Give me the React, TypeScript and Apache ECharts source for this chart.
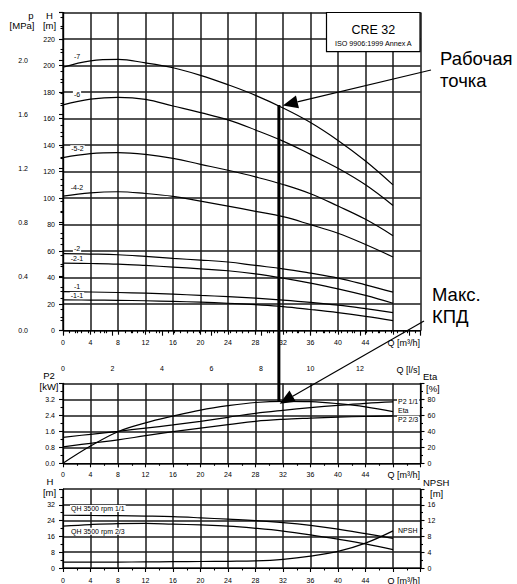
import React, { useEffect, useRef } from "react";
import * as echarts from "echarts";

// ---- data -------------------------------------------------------------
const Q_M3H = [0, 4, 8, 12, 16, 20, 24, 28, 32, 36, 40, 44, 48];

const TOP_NAMES = ["-7", "-6", "-5-2", "-4-2", "-2", "-2-1", "-1", "-1-1"];
const H_7 = [198.7, 203.5, 204.6, 202, 198.3, 192.6, 185.5, 177.5, 168, 157, 143.5, 128, 110];
const H_6 = [170.3, 174.6, 176, 174.5, 169.5, 164.5, 159, 151.4, 143, 133, 122.5, 110, 94.4];
const H_5_2 = [130.5, 133.5, 134.3, 133, 130, 125.5, 121, 116, 110.3, 103.3, 94, 84, 71.7];
const H_4_2 = [101.5, 104, 104.8, 103.5, 101.3, 97.7, 94, 90, 86, 80, 73.5, 65, 55.6];
const H_2 = [58.1, 57.8, 57.3, 56, 54.5, 53.3, 51.8, 49.2, 46.7, 43.4, 39.7, 34.6, 29.1];
const H_2_1 = [51, 50.7, 50.2, 49.2, 48, 46.7, 45.2, 42.9, 39.7, 35.9, 31.6, 26.6, 20.7];
const H_1 = [29.5, 29.2, 28.8, 28.3, 27.6, 26.6, 25.7, 24.5, 23.1, 21.4, 19.3, 16.6, 13.6];
const H_1_1 = [23.2, 23.1, 22.9, 22.6, 22.1, 21.5, 20.7, 19.6, 18.2, 16, 13.6, 10.8, 7.6];
const TOP_CURVES = [H_7, H_6, H_5_2, H_4_2, H_2, H_2_1, H_1, H_1_1];

const P2_11 = [1.3, 1.45, 1.6, 1.76, 1.92, 2.1, 2.3, 2.5, 2.65, 2.78, 2.9, 3.0, 3.07];
const P2_23 = [0.82, 1.0, 1.17, 1.38, 1.58, 1.76, 1.93, 2.1, 2.2, 2.26, 2.31, 2.34, 2.37];
const ETA = [0, 21.5, 39.5, 50.5, 59, 66.5, 72, 76, 77.5, 77, 74.5, 70.5, 64.5];

const QH_11 = [26.7, 26.6, 26.5, 26.3, 26, 25.4, 24.7, 24, 23, 21.6, 19.7, 17.4, 15];
const QH_23 = [21.2, 22, 22.5, 22.6, 22.2, 21.8, 21.2, 20.1, 18.7, 16.8, 14.6, 12.2, 9.3];
const NPSH = [1.5, 1.5, 1.5, 1.55, 1.6, 1.65, 1.7, 1.8, 2.2, 3.0, 4.2, 6.3, 9.4];

const WORK_Q = 31.4;
const WORK_H = 170.3;
const ETA_AT_WORK = 77.4;

const M_TO_MPA = 0.00981;
const Q_MAX = 52;
const H_MAX = 240;

const FONT = "'Liberation Sans', Arial, Helvetica, sans-serif";
const INK = "#000";
const GRID_INK = "#1a1a1a";

export default function App() {
  const ref = useRef<HTMLDivElement>(null);

  useEffect(() => {
    const chart = echarts.init(ref.current!, null, { renderer: "svg" });

    const axisLine = { show: true, lineStyle: { color: INK, width: 1.2 } };
    const split = { show: true, lineStyle: { color: GRID_INK, width: 1.5 } };
    const lbl = (extra: any = {}) => ({ color: INK, fontSize: 7, fontFamily: FONT, ...extra });
    const tick = { show: true, length: 4, lineStyle: { color: INK, width: 1.1 } };
    const minor = (n: number) => ({ show: true, splitNumber: n, length: 2.5, lineStyle: { color: INK, width: 1.1 } });

    const qAxis = (gridIndex: number, margin: number) => ({
      type: "value",
      gridIndex,
      position: "bottom",
      min: 0,
      max: Q_MAX,
      interval: 4,
      axisLine,
      axisTick: tick,
      minorTick: minor(2),
      splitLine: split,
      axisLabel: lbl({ margin, formatter: (v: number) => (v <= 44 ? String(v) : "") }),
    });

    const line = (name: string, xi: number, yi: number, ys: number[]) => ({
      type: "line",
      name,
      xAxisIndex: xi,
      yAxisIndex: yi,
      data: Q_M3H.map((q, i) => [q, ys[i]]),
      smooth: 0.4,
      showSymbol: false,
      symbol: "none",
      lineStyle: { color: INK, width: 1.2 },
      silent: true,
      z: 3,
    });

    const series: any[] = [];
    TOP_CURVES.forEach((c, i) => series.push(line(TOP_NAMES[i], 0, 0, c)));
    series.push(line("P2 1/1", 2, 2, P2_11)); // 8
    series.push(line("Eta", 2, 3, ETA)); // 9
    series.push(line("P2 2/3", 2, 2, P2_23)); // 10
    series.push(line("QH 3500 rpm 1/1", 3, 4, QH_11)); // 11
    series.push(line("QH 3500 rpm 2/3", 3, 4, QH_23)); // 12
    series.push(line("NPSH", 3, 5, NPSH)); // 13

    const option: any = {
      animation: false,
      textStyle: { fontFamily: FONT },
      grid: [
        { left: 63, top: 12.5, width: 357.5, height: 318.2 },
        { left: 63, top: 383.3, width: 357.5, height: 80 },
        { left: 63, top: 489, width: 357.5, height: 79.3 },
      ],
      xAxis: [
        qAxis(0, 8),
        {
          type: "value",
          gridIndex: 0,
          position: "bottom",
          offset: 27.6,
          min: 0,
          max: Q_MAX / 3.6,
          interval: 2,
          axisLine,
          axisTick: { show: true, length: 5, lineStyle: { color: INK, width: 1.1 } },
          minorTick: minor(8),
          splitLine: { show: false },
          axisLabel: lbl({
            margin: 7,
            formatter: (v: number) => (v <= 12 && Math.abs(v - Math.round(v)) < 1e-6 ? String(v) : ""),
          }),
        },
        qAxis(1, 8),
        qAxis(2, 9),
      ],
      yAxis: [
        {
          type: "value",
          gridIndex: 0,
          position: "left",
          min: 0,
          max: H_MAX,
          interval: 20,
          axisLine,
          axisTick: tick,
          minorTick: minor(2),
          splitLine: split,
          axisLabel: lbl({ margin: 8, formatter: (v: number) => (v < H_MAX ? String(v) : "") }),
        },
        {
          type: "value",
          gridIndex: 0,
          position: "left",
          offset: 27,
          min: 0,
          max: H_MAX * M_TO_MPA,
          interval: 0.4,
          axisLine,
          axisTick: tick,
          minorTick: minor(5),
          splitLine: { show: false },
          axisLabel: lbl({ margin: 8, formatter: (v: number) => (v <= 2.01 ? v.toFixed(1) : "") }),
        },
        {
          type: "value",
          gridIndex: 1,
          position: "left",
          min: 0,
          max: 4,
          interval: 0.8,
          axisLine,
          axisTick: tick,
          minorTick: minor(2),
          splitLine: split,
          axisLabel: lbl({ margin: 8, formatter: (v: number) => (v < 3.9 ? v.toFixed(1) : "") }),
        },
        {
          type: "value",
          gridIndex: 1,
          position: "right",
          min: 0,
          max: 100,
          interval: 20,
          axisLine,
          axisTick: tick,
          minorTick: minor(2),
          splitLine: { show: false },
          axisLabel: lbl({ margin: 7, formatter: (v: number) => (v < 100 ? String(v) : "") }),
        },
        {
          type: "value",
          gridIndex: 2,
          position: "left",
          min: 0,
          max: 40,
          interval: 8,
          axisLine,
          axisTick: tick,
          minorTick: minor(2),
          splitLine: split,
          axisLabel: lbl({ margin: 8, formatter: (v: number) => (v < 40 ? String(v) : "") }),
        },
        {
          type: "value",
          gridIndex: 2,
          position: "right",
          min: 0,
          max: 20,
          interval: 4,
          axisLine,
          axisTick: tick,
          minorTick: minor(2),
          splitLine: { show: false },
          axisLabel: lbl({ margin: 7, formatter: (v: number) => (v < 20 ? String(v) : "") }),
        },
      ],
      series,
    };

    chart.setOption(option);

    const px = (si: number, v: number[]) => chart.convertToPixel({ seriesIndex: si } as any, v) as number[];

    const text = (
      x: number,
      y: number,
      t: string,
      size: number,
      align: string = "center",
      extra: any = {}
    ) => ({
      type: "text",
      x,
      y,
      z: 60,
      silent: true,
      style: {
        text: t,
        fill: INK,
        fontSize: size,
        fontFamily: FONT,
        align,
        textAlign: align,
        verticalAlign: "middle",
        textVerticalAlign: "middle",
        ...extra,
      },
    });
    const bg = { backgroundColor: "#fff", padding: [0, 1] };

    const g: any[] = [];

    // axis titles
    g.push(text(31, 15, "p", 9.5));
    g.push(text(22, 25, "[MPa]", 9.5));
    g.push(text(49.5, 15, "H", 9.5));
    g.push(text(49.5, 25, "[m]", 9.5));
    g.push(text(420, 343, "Q [m³/h]", 9, "right"));
    g.push(text(420, 369.5, "Q [l/s]", 9, "right"));
    g.push(text(49, 375, "P2", 9.5));
    g.push(text(49, 386.5, "[kW]", 9.5));
    g.push(text(423, 376.5, "Eta", 9.5, "left"));
    g.push(text(426, 388.3, "[%]", 9.5, "left"));
    g.push(text(420, 475, "Q [m³/h]", 9, "right"));
    g.push(text(50, 481.7, "H", 9.5));
    g.push(text(49.5, 492.3, "[m]", 9.5));
    g.push(text(423, 482.7, "NPSH", 9.5, "left"));
    g.push(text(430, 493.3, "[m]", 9.5, "left"));
    g.push(text(420, 580.5, "Q [m³/h]", 9, "right"));

    // title box
    g.push({
      type: "rect",
      z: 50,
      silent: true,
      shape: { x: 326.5, y: 12.5, width: 93.5, height: 39.2 },
      style: { fill: "#fff", stroke: INK, lineWidth: 1.2 },
    });
    g.push(text(373.3, 29.5, "CRE 32", 12.5));
    g.push(text(373.3, 43, "ISO 9906:1999 Annex A", 7.2));

    // curve labels (top panel)
    const topOffsets = [
      [14, -11],
      [14, -10.5],
      [14.5, -9],
      [14, -8.4],
      [14, -5],
      [14, -4.5],
      [14, -4.6],
      [14, -4.5],
    ];
    TOP_CURVES.forEach((c, i) => {
      const p = px(i, [Q_M3H[0], c[0]]);
      g.push(text(p[0] + topOffsets[i][0], p[1] + topOffsets[i][1], TOP_NAMES[i], 7, "center", bg));
    });

    // middle panel labels
    const last = Q_M3H.length - 1;
    const pE1 = px(8, [Q_M3H[last], P2_11[last]]);
    g.push(text(pE1[0] + 4, pE1[1], "P2 1/1", 7, "left", bg));
    const pE2 = px(9, [Q_M3H[last], ETA[last]]);
    g.push(text(pE2[0] + 4, pE2[1] - 1, "Eta", 7, "left", bg));
    const pE3 = px(10, [Q_M3H[last], P2_23[last]]);
    g.push(text(pE3[0] + 4, pE3[1] + 3.3, "P2 2/3", 7, "left", bg));

    // bottom panel labels
    const b1 = px(11, [Q_M3H[0], QH_11[0]]);
    g.push(text(b1[0] + 7, b1[1] - 6.7, "QH 3500 rpm 1/1", 7, "left", bg));
    const b2 = px(12, [Q_M3H[0], QH_23[0]]);
    g.push(text(b2[0] + 7, b2[1] + 5, "QH 3500 rpm 2/3", 7, "left", bg));
    const b3 = px(13, [Q_M3H[last], NPSH[last]]);
    g.push(text(b3[0] + 4, b3[1], "NPSH", 7, "left", bg));

    // working point line
    const wp = px(0, [WORK_Q, WORK_H]);
    const ep = px(9, [WORK_Q, ETA_AT_WORK]);
    g.push({
      type: "line",
      z: 70,
      silent: true,
      shape: { x1: wp[0], y1: wp[1], x2: ep[0], y2: ep[1] },
      style: { stroke: INK, lineWidth: 3 },
    });

    const arrow = (sx: number, sy: number, tx: number, ty: number) => {
      const dx = sx - tx;
      const dy = sy - ty;
      const len = Math.sqrt(dx * dx + dy * dy);
      const ux = dx / len;
      const uy = dy / len;
      const hl = 15;
      const hw = 6.5;
      const bx = tx + ux * hl;
      const by = ty + uy * hl;
      g.push({
        type: "line",
        z: 70,
        silent: true,
        shape: { x1: sx, y1: sy, x2: bx, y2: by },
        style: { stroke: INK, lineWidth: 1.2 },
      });
      g.push({
        type: "polygon",
        z: 71,
        silent: true,
        shape: {
          points: [
            [tx, ty],
            [bx - uy * hw, by + ux * hw],
            [bx + uy * hw, by - ux * hw],
          ],
        },
        style: { fill: INK },
      });
    };
    arrow(431, 70, wp[0] + 4, wp[1] + 0.5);
    arrow(424, 321, ep[0] + 0.8, ep[1] + 2.3);

    // annotation texts
    g.push(text(440, 58, "Рабочая", 18.5, "left"));
    g.push(text(440, 80, "точка", 18.5, "left"));
    g.push(text(432, 294.5, "Макс.", 18.5, "left"));
    g.push(text(432, 316.5, "КПД", 18.5, "left"));

    chart.setOption({ graphic: g });

    return () => chart.dispose();
  }, []);

  return (
    <div
      ref={ref}
      style={{ position: "absolute", left: 0, top: 0, width: 517, height: 584, background: "#fff" }}
    />
  );
}
